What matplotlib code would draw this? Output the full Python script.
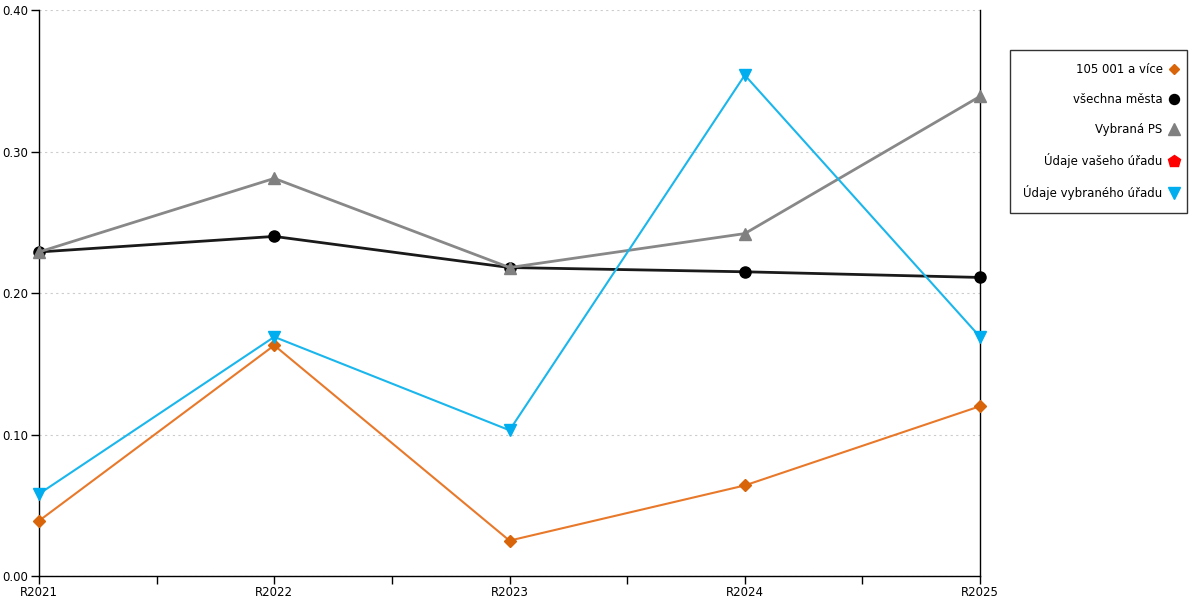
import matplotlib
matplotlib.use("Agg")
import matplotlib.pyplot as plt
from matplotlib.ticker import MultipleLocator, FixedLocator

years = ["R2021", "R2022", "R2023", "R2024", "R2025"]
big_cities = [0.039, 0.163, 0.025, 0.064, 0.120]
all_cities = [0.229, 0.240, 0.218, 0.215, 0.211]
selected_ps = [0.229, 0.281, 0.218, 0.242, 0.339]
your_office = [None, None, None, None, None]
selected_office = [0.058, 0.169, 0.103, 0.354, 0.169]

plt.rcParams['font.family'] = ['DejaVu Sans']
fig = plt.figure(figsize=(12, 6), dpi=100)
ax = fig.add_axes([0.0325, 0.04, 0.7842, 0.9433])

x = list(range(len(years)))
ax.plot(x, big_cities, color='#E8792B', lw=1.5, marker='D', ms=6,
        mfc='#D9650A', mec='#D9650A', label='105 001 a více', zorder=3, clip_on=False)
ax.plot(x, all_cities, color='#1a1a1a', lw=2, marker='o', ms=8,
        mfc='black', mec='black', label='všechna města', zorder=3, clip_on=False)
ax.plot(x, selected_ps, color='#888888', lw=2, marker='^', ms=9,
        mfc='#808080', mec='#808080', label='Vybraná PS', zorder=4, clip_on=False)
ax.plot(x, [float('nan') if v is None else v for v in your_office],
        color='red', lw=1.5, marker='p', ms=10, mfc='red', mec='red',
        label='Údaje vašeho úřadu', zorder=3)
ax.plot(x, selected_office, color='#1AB6EC', lw=1.5, marker='v', ms=9,
        mfc='#00AEEF', mec='#00AEEF', label='Údaje vybraného úřadu', zorder=5, clip_on=False)

ax.set_xlim(0, len(years) - 1)
ax.set_ylim(0, 0.40)
ax.yaxis.set_major_locator(MultipleLocator(0.10))
ax.yaxis.set_major_formatter(matplotlib.ticker.FormatStrFormatter('%.2f'))
ax.set_xticks(x)
ax.set_xticklabels(years)
ax.xaxis.set_minor_locator(FixedLocator([0.5, 1.5, 2.5, 3.5]))
ax.tick_params(axis='x', which='both', direction='out', length=6, width=1,
               labelsize=8.5, pad=1)
ax.tick_params(axis='y', direction='out', length=6, width=1, labelsize=8.5, pad=2)
ax.grid(axis='y', color='#cccccc', linestyle=(0, (2, 3)), lw=0.8)
ax.set_axisbelow(True)
for s in ['left', 'bottom', 'right']:
    ax.spines[s].set_color('black')
    ax.spines[s].set_linewidth(1)
ax.spines['top'].set_visible(False)

leg = fig.legend(loc='upper left', bbox_to_anchor=(0.842, 0.917), markerfirst=False,
                 frameon=True, fancybox=False, edgecolor='black', fontsize=8.5,
                 handlelength=0, handletextpad=1.0, labelspacing=1.45,
                 borderpad=1.1, borderaxespad=0, alignment='right', markerscale=0.9)
leg.get_frame().set_linewidth(1)
for t in leg.get_texts():
    t.set_ha('right')

fig.savefig('out.png', dpi=100)
